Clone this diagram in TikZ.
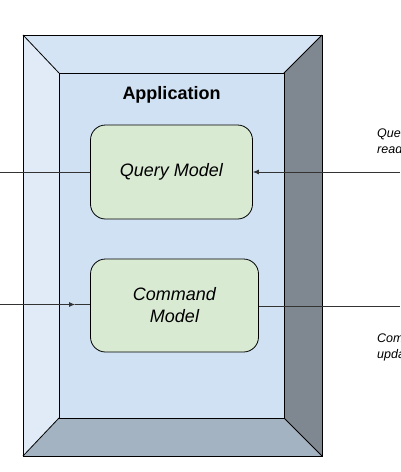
\documentclass[tikz,border=0pt]{standalone}
\usepackage{fontspec}
\setmainfont{Liberation Sans}
\usetikzlibrary{arrows.meta}
\definecolor{innerblue}{HTML}{CFE1F3}
\definecolor{topface}{HTML}{D5E4F4}
\definecolor{leftface}{HTML}{E0EBF7}
\definecolor{rightface}{HTML}{7F8891}
\definecolor{bottomface}{HTML}{A4B3C1}
\definecolor{boxgreen}{HTML}{D9EAD3}
\definecolor{linegray}{HTML}{333333}
\tikzset{
  model/.style={draw=black, line width=0.8pt, fill=boxgreen, rounded corners=15pt, inner sep=0pt,
    font=\fontsize{18}{22}\selectfont\itshape, align=center},
  face/.style={draw=black, line width=0.8pt, line join=miter},
  conn/.style={draw=linegray, line width=0.8pt},
  arr/.style={conn, -{Latex[length=6pt,width=5pt]}},
  note/.style={font=\fontsize{12.5}{16}\selectfont\itshape, align=left, anchor=north west, inner sep=0pt}
}
\begin{document}
\begin{tikzpicture}[x=1pt,y=-1pt]
\useasboundingbox (0,0) rectangle (400,472);
\clip (0,0) rectangle (400,472);
% bevel frame corners
\coordinate (o1) at (23,35);
\coordinate (o2) at (322,35);
\coordinate (o3) at (322,456);
\coordinate (o4) at (23,456);
\coordinate (i1) at (59,73);
\coordinate (i2) at (284,73);
\coordinate (i3) at (284,418);
\coordinate (i4) at (59,418);
\fill[topface] (o1) -- (o2) -- (i2) -- (i1) -- cycle;
\fill[rightface] (o2) -- (o3) -- (i3) -- (i2) -- cycle;
\fill[bottomface] (o3) -- (o4) -- (i4) -- (i3) -- cycle;
\fill[leftface] (o4) -- (o1) -- (i1) -- (i4) -- cycle;
\fill[innerblue] (i1) rectangle (i3);
\draw[face] (o1) rectangle (o3);
\draw[face] (i1) rectangle (i3);
\draw[face] (o1) -- (i1) (o2) -- (i2) (o3) -- (i3) (o4) -- (i4);
\node[font=\fontsize{18}{22}\selectfont\bfseries] (app) at (171.5,95) {Application};
% models
\node[model, minimum width=162pt, minimum height=94pt] (query) at (171.5,172) {Query Model};
\node[model, minimum width=168pt, minimum height=93pt] (command) at (174.5,305.5) {Command\\Model};
% external ends
\coordinate (qL) at (0,172);
\coordinate (qR) at (400,172);
\coordinate (cL) at (0,304.5);
\coordinate (cR) at (400,306.5);
\draw[conn] (query.west |- qL) -- (qL);
\draw[arr] (qR) -- (query.east |- qR);
\draw[arr] (cL) -- ([xshift=-15pt]command.west |- cL);
\draw[conn] (command.west |- cL) -- ([xshift=-15pt]command.west |- cL);
\draw[conn] (command.east |- cR) -- (cR);
% notes
\node[note] (qnote) at (377,128) {Queries\\read data};
\node[note] (cnote) at (377,333) {Commands\\update data};
\end{tikzpicture}
\end{document}
